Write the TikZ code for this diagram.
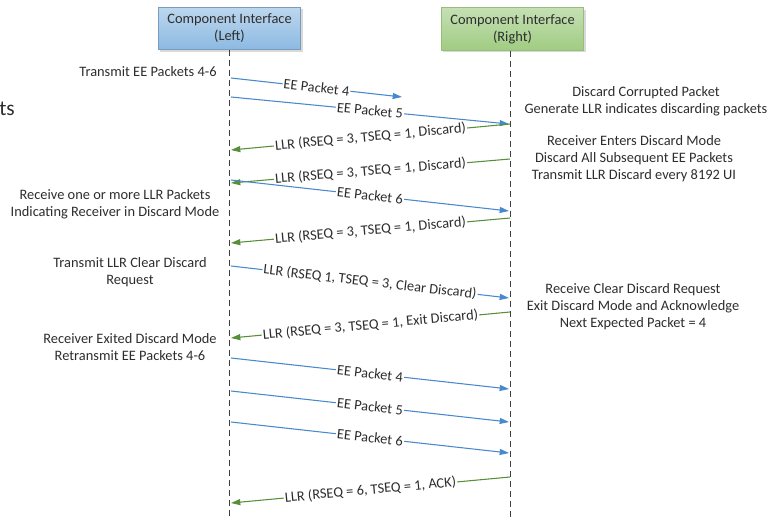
\documentclass[tikz,border=0pt]{standalone}
\usepackage{fontspec}
\setmainfont{Carlito}
\usepackage{tikz}
\usetikzlibrary{arrows.meta,positioning,shadows}
\definecolor{msgblue}{RGB}{72,136,204}
\definecolor{msggreen}{RGB}{88,142,56}
\definecolor{lefttop}{RGB}{189,215,238}
\definecolor{leftbot}{RGB}{140,185,226}
\definecolor{leftdraw}{RGB}{120,155,190}
\definecolor{righttop}{RGB}{197,224,180}
\definecolor{rightbot}{RGB}{160,204,130}
\definecolor{rightdraw}{RGB}{150,190,120}
\definecolor{lifegray}{RGB}{64,64,64}
\definecolor{textgray}{RGB}{45,45,45}

\begin{document}
\begin{tikzpicture}[
    x=0.75pt, y=-0.75pt,
    every node/.style={font=\fontsize{10.8}{12.75}\selectfont, text=textgray},
    actor/.style={
      rectangle, minimum width=107pt, minimum height=32pt,
      align=center, line width=0.6pt,
      drop shadow={shadow xshift=1.5pt, shadow yshift=-1.5pt, opacity=0.3}
    },
    leftactor/.style={actor, draw=leftdraw, top color=lefttop, bottom color=leftbot},
    rightactor/.style={actor, draw=rightdraw, top color=righttop, bottom color=rightbot},
    note/.style={align=center, inner sep=0pt},
    lifeline/.style={draw=lifegray, line width=1.1pt, dash pattern=on 4.5pt off 3pt},
    msglabel/.style={sloped, fill=white, inner sep=0.8pt, pos=0.5},
    bluemsg/.style={-{Triangle[length=7pt,width=4.5pt]}, line width=0.8pt, draw=msgblue},
    greenmsg/.style={-{Triangle[length=7pt,width=4.5pt]}, line width=0.8pt, draw=msggreen}
  ]
    \useasboundingbox (0,0) rectangle (778,517);
    % lifelines
    \node[leftactor] (left) at (229.5,28.5) {Component Interface\\(Left)};
    \node[rightactor] (right) at (512.5,29) {Component Interface\\(Right)};
    \coordinate (lbot) at (229.5,517);
    \coordinate (rbot) at (510.5,517);
    \draw[lifeline] (left.south) -- (lbot);
    \draw[lifeline] (right.south -| rbot) -- (rbot);
    % message end points
    \coordinate (l1) at (231,78);   \coordinate (r1) at (402,97);
    \coordinate (l2) at (231,97);   \coordinate (r2) at (509,124);
    \coordinate (r3) at (510,124);  \coordinate (l3) at (231,150);
    \coordinate (r4) at (510,159);  \coordinate (l4) at (231,183);
    \coordinate (l5) at (231,180);  \coordinate (r5) at (509,211);
    \coordinate (r6) at (510,218);  \coordinate (l6) at (231,243);
    \coordinate (l7) at (231,266);  \coordinate (r7) at (509,298);
    \coordinate (r8) at (510,312);  \coordinate (l8) at (231,338);
    \coordinate (l9) at (231,358);  \coordinate (r9) at (509,389);
    \coordinate (l10) at (231,391); \coordinate (r10) at (509,422);
    \coordinate (l11) at (231,422); \coordinate (r11) at (509,453);
    \coordinate (r12) at (510,477); \coordinate (l12) at (231,503);
    % messages
    \draw[bluemsg] (l1) -- node[msglabel] {EE Packet 4} (r1);
    \draw[bluemsg] (l2) -- node[msglabel] {EE Packet 5} (r2);
    \draw[greenmsg] (r3) -- node[msglabel] {LLR (RSEQ = 3, TSEQ = 1, Discard)} (l3);
    \draw[greenmsg] (r4) -- node[msglabel] {LLR (RSEQ = 3, TSEQ = 1, Discard)} (l4);
    \draw[bluemsg] (l5) -- node[msglabel] {EE Packet 6} (r5);
    \draw[greenmsg] (r6) -- node[msglabel] {LLR (RSEQ = 3, TSEQ = 1, Discard)} (l6);
    \draw[bluemsg] (l7) -- node[msglabel] {LLR (RSEQ 1, TSEQ = 3, Clear Discard)} (r7);
    \draw[greenmsg] (r8) -- node[msglabel] {LLR (RSEQ = 3, TSEQ = 1, Exit Discard)} (l8);
    \draw[bluemsg] (l9) -- node[msglabel] {EE Packet 4} (r9);
    \draw[bluemsg] (l10) -- node[msglabel] {EE Packet 5} (r10);
    \draw[bluemsg] (l11) -- node[msglabel] {EE Packet 6} (r11);
    \draw[greenmsg] (r12) -- node[msglabel] {LLR (RSEQ = 6, TSEQ = 1, ACK)} (l12);
    % notes
    \node[anchor=base west, inner sep=0pt, font=\fontsize{16}{18}\selectfont] (ts) at (-1,115) {ts};
    \node[note] (txee) at (148,72) {Transmit EE Packets 4-6};
    \node[note] (rxllr) at (115,204) {Receive one or more LLR Packets\\Indicating Receiver in Discard Mode};
    \node[note] (txclr) at (130,272) {Transmit LLR Clear Discard\\Request};
    \node[note] (rxexit) at (130,347) {Receiver Exited Discard Mode\\Retransmit EE Packets 4-6};
    \node[note] (corrupt) at (646,101) {Discard Corrupted Packet\\Generate LLR indicates discarding packets};
    \node[note] (enter) at (634,159) {Receiver Enters Discard Mode\\Discard All Subsequent EE Packets\\Transmit LLR Discard every 8192 UI};
    \node[note] (clear) at (633,307) {Receive Clear Discard Request\\Exit Discard Mode and Acknowledge\\Next Expected Packet = 4};
  \end{tikzpicture}
\end{document}
